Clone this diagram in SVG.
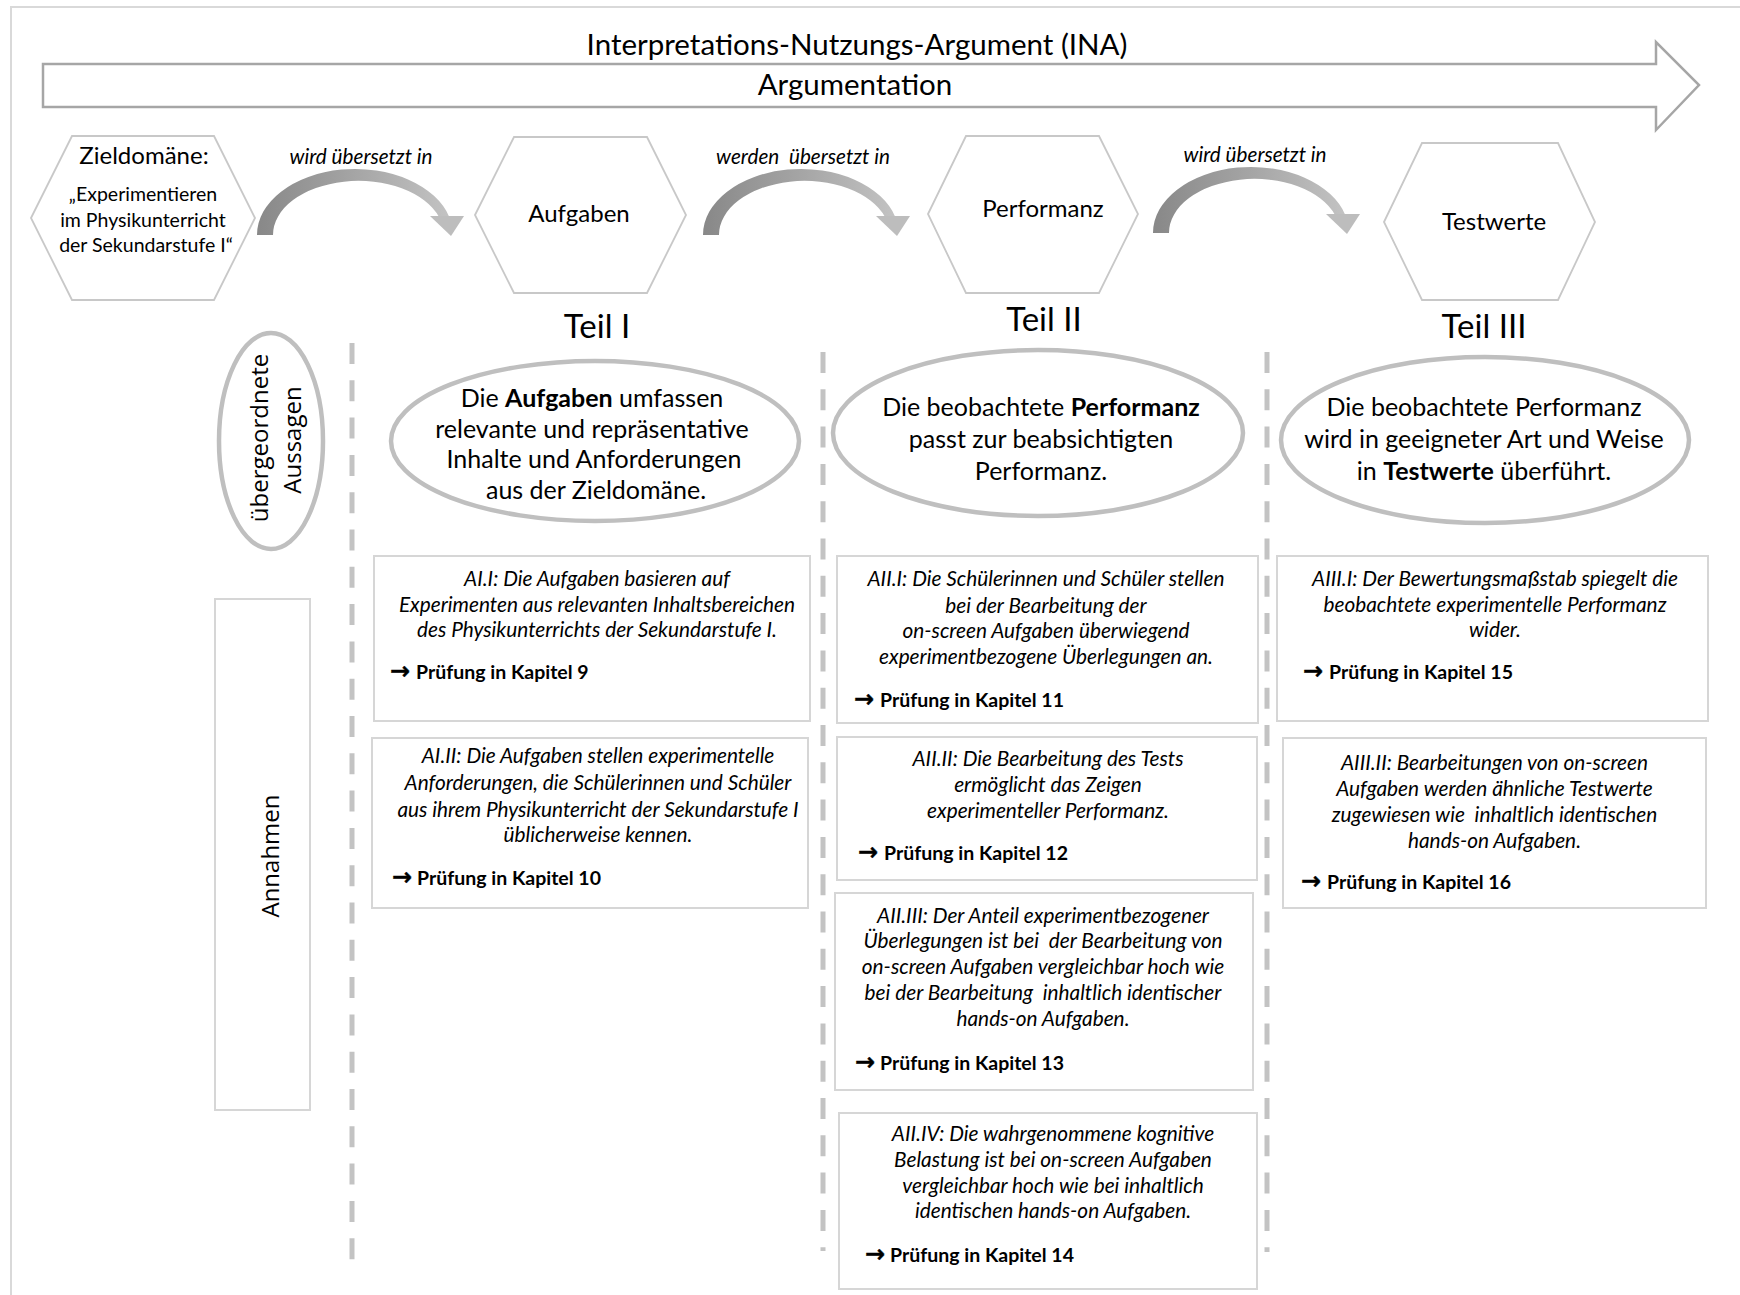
<svg xmlns="http://www.w3.org/2000/svg" width="1740" height="1295" viewBox="0 0 1740 1295">
  <style>
    text { font-family: Lato, "Open Sans", "Liberation Sans", sans-serif; fill: #000; }
    .frame { fill: none; stroke: #d9d9d9; stroke-width: 2; }
    .bigarrow { fill: #fff; stroke: #a6a6a6; stroke-width: 2.5; }
    .title { font-size: 29.5px; text-anchor: middle; }
    .hex { fill: #fff; stroke: #c8c8c8; stroke-width: 1.8; }
    .hexhead { font-size: 24px; text-anchor: middle; }
    .hexsub { font-size: 19.5px; text-anchor: middle; }
    .arcband { fill: url(#arcGrad); }
    .arrowtip { fill: #bdbdbd; }
    .arclabel { font-size: 20.7px; font-style: italic; text-anchor: middle; white-space: pre; }
    .teil { font-size: 33px; text-anchor: middle; }
    .divider { fill: none; stroke: #c3c3c3; stroke-width: 5; stroke-dasharray: 21 16.3; }
    .claim { fill: #fff; stroke: #bfbfbf; stroke-width: 4.5; }
    .claimtext { font-size: 25px; text-anchor: middle; }
    .side { font-family: "Open Sans", Lato, sans-serif; font-size: 24px; text-anchor: middle; }
    .box { fill: #fff; stroke: #d6d6d6; stroke-width: 2; }
    .assume { font-size: 20.8px; font-style: italic; text-anchor: middle; white-space: pre; }
    .check { font-size: 19.5px; font-weight: bold; }
    .arr { font-family: "DejaVu Sans", sans-serif; font-weight: bold; font-size: 24px; stroke: #000; stroke-width: 0.4; }
    .b { font-weight: bold; }
  </style>
  <defs>
    <linearGradient id="arcGrad" gradientUnits="userSpaceOnUse" x1="257" y1="0" x2="460" y2="0">
      <stop offset="0" stop-color="#888888"/>
      <stop offset="0.45" stop-color="#a3a3a3"/>
      <stop offset="1" stop-color="#c6c6c6"/>
    </linearGradient>
  </defs>

  <rect width="1740" height="1295" fill="#fff"/>
  <path class="frame" d="M11,1295 V7 H1740"/>

  <!-- overall argument arrow -->
  <g id="ina-arrow">
    <polygon class="bigarrow" points="43,64 1656,64 1656,42 1699,85 1656,130 1656,107 43,107"/>
    <text class="title" x="857" y="55">Interpretations-Nutzungs-Argument (INA)</text>
    <text class="title" x="855" y="95" font-size="26">Argumentation</text>
  </g>

  <!-- hexagon nodes -->
  <g id="node-zieldomaene">
    <polygon class="hex" points="31,218 72,136 214,136 255,218 214,300 72,300"/>
    <text class="hexhead" x="144" y="164">Zieldomäne:</text>
    <text class="hexsub" x="143" y="201">„Experimentieren</text>
    <text class="hexsub" x="143" y="227">im Physikunterricht</text>
    <text class="hexsub" x="146" y="252">der Sekundarstufe I“</text>
  </g>
  <g id="node-aufgaben">
    <polygon class="hex" points="475,215 514,137 647,137 686,215 647,293 514,293"/>
    <text class="hexhead" x="579" y="222">Aufgaben</text>
  </g>
  <g id="node-performanz">
    <polygon class="hex" points="928,214 966,136 1099,136 1138,214 1099,293 966,293"/>
    <text class="hexhead" x="1043" y="217">Performanz</text>
  </g>
  <g id="node-testwerte">
    <polygon class="hex" points="1384,222 1422,143 1558,143 1595,222 1558,300 1422,300"/>
    <text class="hexhead" x="1494" y="230">Testwerte</text>
  </g>

  <!-- curved "translated into" connectors -->
  <g id="connectors">
    <g id="conn-1">
      <path class="arcband" d="M257,235 A98,66 0 0 1 449.3,217 L439,217 A85.4,54 0 0 0 273,235 Z"/>
      <polygon class="arrowtip" points="430,216 464,216 451,236"/>
    </g>
    <g id="conn-2" transform="translate(446,0)">
      <path class="arcband" d="M257,235 A98,66 0 0 1 449.3,217 L439,217 A85.4,54 0 0 0 273,235 Z"/>
      <polygon class="arrowtip" points="430,216 464,216 451,236"/>
    </g>
    <g id="conn-3" transform="translate(896,-2)">
      <path class="arcband" d="M257,235 A98,66 0 0 1 449.3,217 L439,217 A85.4,54 0 0 0 273,235 Z"/>
      <polygon class="arrowtip" points="430,216 464,216 451,236"/>
    </g>
    <text class="arclabel" x="361" y="164">wird übersetzt in</text>
    <text class="arclabel" x="803" y="164">werden  übersetzt in</text>
    <text class="arclabel" x="1255" y="162">wird übersetzt in</text>
  </g>

  <!-- part headings -->
  <g id="headings">
    <text class="teil" x="597" y="338">Teil I</text>
    <text class="teil" x="1044" y="331">Teil II</text>
    <text class="teil" x="1484" y="338">Teil III</text>
  </g>

  <!-- column dividers -->
  <g id="dividers">
    <line class="divider" x1="352" y1="343" x2="352" y2="1260"/>
    <line class="divider" x1="823" y1="352" x2="823" y2="1251"/>
    <line class="divider" x1="1267" y1="352" x2="1267" y2="1252"/>
  </g>

  <!-- row labels -->
  <g id="label-aussagen">
    <ellipse class="claim" cx="271" cy="441" rx="52" ry="108"/>
    <text class="side" transform="translate(268,438) rotate(-90)">übergeordnete</text>
    <text class="side" transform="translate(301,440) rotate(-90)">Aussagen</text>
  </g>
  <g id="label-annahmen">
    <rect class="box" x="215" y="599" width="95" height="511"/>
    <text class="side" font-size="26.5" transform="translate(279,856) rotate(-90)">Annahmen</text>
  </g>

  <!-- overarching claims -->
  <g id="claim-1">
    <ellipse class="claim" cx="595" cy="441" rx="204" ry="80"/>
    <text class="claimtext" x="592" y="407">Die <tspan class="b">Aufgaben</tspan> umfassen</text>
    <text class="claimtext" x="592" y="437.5">relevante und repräsentative</text>
    <text class="claimtext" x="594" y="468">Inhalte und Anforderungen</text>
    <text class="claimtext" x="596" y="499">aus der Zieldomäne.</text>
  </g>
  <g id="claim-2">
    <ellipse class="claim" cx="1038" cy="433" rx="205" ry="83"/>
    <text class="claimtext" x="1041" y="416">Die beobachtete <tspan class="b">Performanz</tspan></text>
    <text class="claimtext" x="1041" y="448">passt zur beabsichtigten</text>
    <text class="claimtext" x="1041" y="480">Performanz.</text>
  </g>
  <g id="claim-3">
    <ellipse class="claim" cx="1485" cy="440" rx="204" ry="83"/>
    <text class="claimtext" x="1484" y="416">Die beobachtete Performanz</text>
    <text class="claimtext" x="1484" y="448">wird in geeigneter Art und Weise</text>
    <text class="claimtext" x="1484" y="480">in <tspan class="b">Testwerte</tspan> überführt.</text>
  </g>

  <!-- assumptions, part I -->
  <g id="assumption-AI-I">
    <rect class="box" x="374" y="556" width="436" height="165"/>
    <text class="assume" x="597" y="586">AI.I: Die Aufgaben basieren auf</text>
    <text class="assume" x="597" y="612">Experimenten aus relevanten Inhaltsbereichen</text>
    <text class="assume" x="597" y="637">des Physikunterrichts der Sekundarstufe I.</text>
    <text class="check" x="390" y="679"><tspan class="arr">→</tspan><tspan x="416">Prüfung in Kapitel 9</tspan></text>
  </g>
  <g id="assumption-AI-II">
    <rect class="box" x="372" y="738" width="436" height="170"/>
    <text class="assume" x="598" y="763">AI.II: Die Aufgaben stellen experimentelle</text>
    <text class="assume" x="598" y="790">Anforderungen, die Schülerinnen und Schüler</text>
    <text class="assume" x="598" y="817">aus ihrem Physikunterricht der Sekundarstufe I</text>
    <text class="assume" x="598" y="842">üblicherweise kennen.</text>
    <text class="check" x="392" y="885"><tspan class="arr">→</tspan><tspan x="417">Prüfung in Kapitel 10</tspan></text>
  </g>

  <!-- assumptions, part II -->
  <g id="assumption-AII-I">
    <rect class="box" x="837" y="556" width="421" height="167"/>
    <text class="assume" x="1046" y="586">AII.I: Die Schülerinnen und Schüler stellen</text>
    <text class="assume" x="1046" y="613">bei der Bearbeitung der</text>
    <text class="assume" x="1046" y="638">on-screen Aufgaben überwiegend</text>
    <text class="assume" x="1046" y="664">experimentbezogene Überlegungen an.</text>
    <text class="check" x="854" y="707"><tspan class="arr">→</tspan><tspan x="880">Prüfung in Kapitel 11</tspan></text>
  </g>
  <g id="assumption-AII-II">
    <rect class="box" x="837" y="737" width="420" height="143"/>
    <text class="assume" x="1048" y="766">AII.II: Die Bearbeitung des Tests</text>
    <text class="assume" x="1048" y="792">ermöglicht das Zeigen</text>
    <text class="assume" x="1048" y="818">experimenteller Performanz.</text>
    <text class="check" x="858" y="860"><tspan class="arr">→</tspan><tspan x="884">Prüfung in Kapitel 12</tspan></text>
  </g>
  <g id="assumption-AII-III">
    <rect class="box" x="835" y="893" width="418" height="197"/>
    <text class="assume" x="1043" y="923">AII.III: Der Anteil experimentbezogener</text>
    <text class="assume" x="1043" y="948">Überlegungen ist bei  der Bearbeitung von</text>
    <text class="assume" x="1043" y="974">on-screen Aufgaben vergleichbar hoch wie</text>
    <text class="assume" x="1043" y="1000">bei der Bearbeitung  inhaltlich identischer</text>
    <text class="assume" x="1043" y="1026">hands-on Aufgaben.</text>
    <text class="check" x="855" y="1070"><tspan class="arr">→</tspan><tspan x="880">Prüfung in Kapitel 13</tspan></text>
  </g>
  <g id="assumption-AII-IV">
    <rect class="box" x="839" y="1113" width="418" height="176"/>
    <text class="assume" x="1053" y="1141">AII.IV: Die wahrgenommene kognitive</text>
    <text class="assume" x="1053" y="1167">Belastung ist bei on-screen Aufgaben</text>
    <text class="assume" x="1053" y="1193">vergleichbar hoch wie bei inhaltlich</text>
    <text class="assume" x="1053" y="1218">identischen hands-on Aufgaben.</text>
    <text class="check" x="865" y="1262"><tspan class="arr">→</tspan><tspan x="890">Prüfung in Kapitel 14</tspan></text>
  </g>

  <!-- assumptions, part III -->
  <g id="assumption-AIII-I">
    <rect class="box" x="1277" y="556" width="431" height="165"/>
    <text class="assume" x="1495" y="586">AIII.I: Der Bewertungsmaßstab spiegelt die</text>
    <text class="assume" x="1495" y="612">beobachtete experimentelle Performanz</text>
    <text class="assume" x="1495" y="637">wider.</text>
    <text class="check" x="1303" y="679"><tspan class="arr">→</tspan><tspan x="1329">Prüfung in Kapitel 15</tspan></text>
  </g>
  <g id="assumption-AIII-II">
    <rect class="box" x="1283" y="738" width="423" height="170"/>
    <text class="assume" x="1494.5" y="770">AIII.II: Bearbeitungen von on-screen</text>
    <text class="assume" x="1494.5" y="796">Aufgaben werden ähnliche Testwerte</text>
    <text class="assume" x="1494.5" y="822">zugewiesen wie  inhaltlich identischen</text>
    <text class="assume" x="1494.5" y="848">hands-on Aufgaben.</text>
    <text class="check" x="1301" y="889"><tspan class="arr">→</tspan><tspan x="1327">Prüfung in Kapitel 16</tspan></text>
  </g>
</svg>
